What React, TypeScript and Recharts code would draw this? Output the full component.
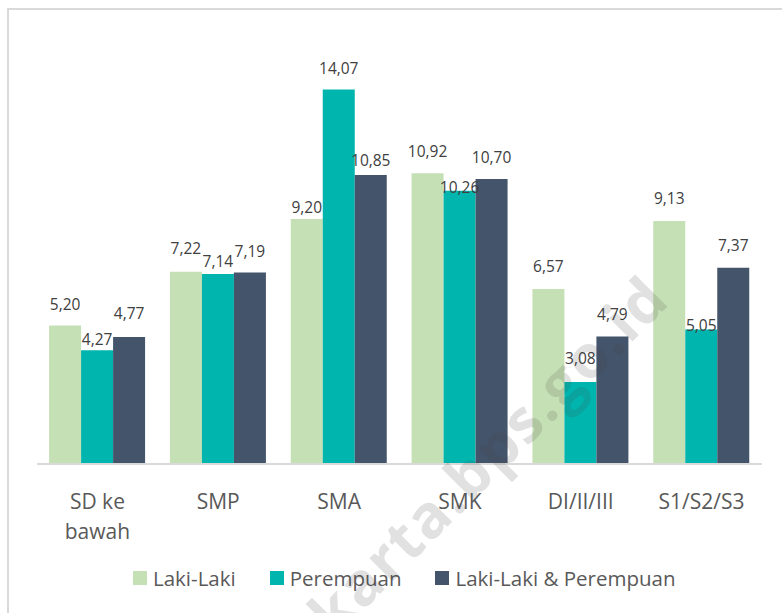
import React from "react";
import { BarChart, Bar, XAxis, YAxis, LabelList, Legend } from "recharts";

const categories = ["SD ke bawah", "SMP", "SMA", "SMK", "DI/II/III", "S1/S2/S3"];
const lakiLaki = [5.2, 7.22, 9.2, 10.92, 6.57, 9.13];
const perempuan = [4.27, 7.14, 14.07, 10.26, 3.08, 5.05];
const total = [4.77, 7.19, 10.85, 10.7, 4.79, 7.37];

// label lift above bar top (px), mimicking the source's label placement
const lakiLift = [21, 23, 12, 22, 23, 22];
const perempuanLift = [11, 12, 21, 3, 23, 4];
const totalLift = [23, 21, 15, 22, 22, 22];

const seriesNames = ["Laki-Laki", "Perempuan", "Laki-Laki & Perempuan"];
const colors = ["#C5E0B4", "#00B5AE", "#44546A"];

const data = categories.map((c, i) => ({
  name: c,
  laki: lakiLaki[i],
  perempuan: perempuan[i],
  total: total[i],
}));

const FONT = "'Open Sans', sans-serif";

const fmt = (v: number) => v.toFixed(2).replace(".", ",");

const makeLabel = (lifts: number[]) => (props: any) => {
  const { x, y, width, value, index } = props;
  const cx = x + width / 2;
  const cy = y - lifts[index];
  return (
    <text
      x={cx}
      y={cy}
      dy={5.5}
      textAnchor="middle"
      fontFamily={FONT}
      fontSize={15.5}
      fill="#404040"
    >
      {fmt(value)}
    </text>
  );
};

const Tick = (props: any) => {
  const { x, y, payload } = props;
  const text: string = payload.value;
  const lines = text === "SD ke bawah" ? ["SD ke", "bawah"] : [text];
  return (
    <g>
      {lines.map((l, i) => (
        <text
          key={i}
          x={x}
          y={y + 37 + i * 30}
          textAnchor="middle"
          fontFamily={FONT}
          fontSize={21}
          fill="#595959"
        >
          {l}
        </text>
      ))}
    </g>
  );
};

const LegendContent = () => (
  <div
    style={{
      display: "flex",
      alignItems: "center",
      height: 30,
      paddingLeft: 133,
      fontFamily: FONT,
      fontSize: 20.5,
      color: "#595959",
      whiteSpace: "nowrap",
    }}
  >
    {seriesNames.map((n, i) => (
      <div key={n} style={{ display: "flex", alignItems: "center", marginRight: 34 }}>
        <div style={{ width: 14, height: 14, background: colors[i], marginRight: 6 }} />
        <span>{n}</span>
      </div>
    ))}
  </div>
);

export default function App() {
  return (
    <div style={{ position: "absolute", left: 0, top: 0, width: 782, height: 613, background: "#fff", overflow: "hidden" }}>
      <div
        style={{
          position: "absolute",
          left: 7,
          top: 8,
          width: 800,
          height: 620,
          border: "2px solid #D9D9D9",
          boxSizing: "border-box",
        }}
      />
      <BarChart
        width={782}
        height={613}
        data={data}
        margin={{ top: 38, right: 20, left: 37, bottom: 59 }}
        barCategoryGap="10%"
        barGap={0}
      >
        <XAxis
          dataKey="name"
          height={60}
          tickLine={false}
          axisLine={{ stroke: "#D9D9D9", strokeWidth: 2 }}
          tick={<Tick />}
          interval={0}
        />
        <YAxis hide domain={[0, 16]} />
        <Legend content={<LegendContent />} wrapperStyle={{ top: 563, left: 0, width: 782, bottom: "auto" }} />
        <Bar dataKey="laki" name={seriesNames[0]} fill={colors[0]} isAnimationActive={false}>
          <LabelList dataKey="laki" content={makeLabel(lakiLift)} />
        </Bar>
        <Bar dataKey="perempuan" name={seriesNames[1]} fill={colors[1]} isAnimationActive={false}>
          <LabelList dataKey="perempuan" content={makeLabel(perempuanLift)} />
        </Bar>
        <Bar dataKey="total" name={seriesNames[2]} fill={colors[2]} isAnimationActive={false}>
          <LabelList dataKey="total" content={makeLabel(totalLift)} />
        </Bar>
      </BarChart>
      <svg
        width={782}
        height={613}
        style={{ position: "absolute", left: 0, top: 0, pointerEvents: "none" }}
      >
        <text
          x={672}
          y={302}
          textAnchor="end"
          transform="rotate(-45 672 302)"
          fontFamily="'Open Sans', sans-serif"
          fontWeight={700}
          fontSize={60}
          letterSpacing={2}
          fill="rgba(70,70,70,0.16)"
        >
          jakarta.bps.go.id
        </text>
      </svg>
    </div>
  );
}
